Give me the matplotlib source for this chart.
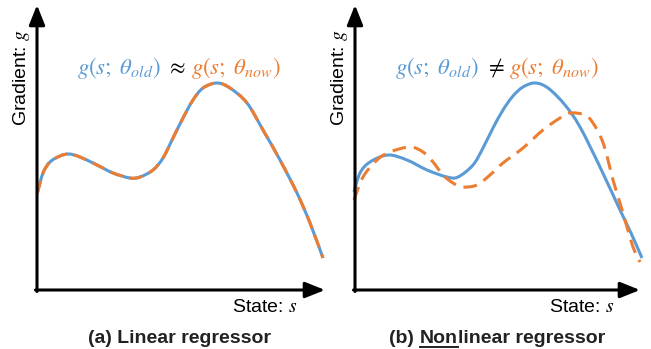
import numpy as np
import matplotlib
matplotlib.use("Agg")
import matplotlib.pyplot as plt
from matplotlib.lines import Line2D
from matplotlib.path import Path
from matplotlib.patches import PathPatch

# -----------------------------
# data (x = state, y = gradient)
# -----------------------------
# (a) linear regressor: old and new gradient curves overlap
state_a = [0.3, 6, 13, 23, 32, 43, 60, 76, 93, 103, 116, 126, 136, 146,
           156, 166, 180, 193, 210, 226, 243, 260, 273, 286]
grad_a = [96.7, 117, 128, 134, 136, 133, 125, 117, 112, 113, 120, 132, 152, 172,
          190, 202, 207, 202, 187, 160, 130, 97, 67, 32]

# (b) nonlinear regressor: old gradient
state_b_old = [-1, 5, 15, 33, 52, 72, 92, 103, 118, 128, 138, 148, 158, 168,
               180, 193, 210, 225, 245, 265, 276, 287]
grad_b_old = [98, 117, 128, 135, 130, 120, 113, 113, 125, 142, 162, 180, 194, 203,
              207, 202, 185, 163, 123, 80, 57, 32]

# (b) nonlinear regressor: new gradient
state_b_now = [-1, 8, 22, 35, 55, 68, 78, 88, 98, 108, 122, 135, 148, 168,
               188, 205, 215, 230, 238, 247, 253, 258, 265, 272, 278, 285]
grad_b_now = [90, 113, 130, 138, 143, 138, 128, 115, 107, 103, 105, 115, 127, 142,
              160, 172, 177, 175, 167, 150, 130, 110, 87, 63, 43, 28]

BLUE = "#5B9BD5"
ORANGE = "#ED7D31"

W, H = 651, 349
plt.rcParams["font.family"] = ["Liberation Sans", "DejaVu Sans"]
plt.rcParams["mathtext.fontset"] = "stix"

fig = plt.figure(figsize=(W / 100, H / 100), dpi=100)


def fx(px):
    return px / W


def fy(py):
    return 1 - py / H


def make_panel(left, right, top=5, bottom=290):
    ax = fig.add_axes([fx(left), fy(bottom), (right - left) / W, (bottom - top) / H])
    ax.set_xlim(0, right - left)
    ax.set_ylim(0, bottom - top)
    ax.axis("off")
    style = "-|>,head_length=0.5,head_width=0.2"
    arr = dict(arrowstyle=style, lw=2.2, color="black", mutation_scale=24,
               shrinkA=0, shrinkB=0)
    ax.annotate("", xy=(right - left, 0), xytext=(-1.5, 0), arrowprops=arr,
                annotation_clip=False)
    ax.annotate("", xy=(0, bottom - top), xytext=(0, -1.5), arrowprops=arr,
                annotation_clip=False)
    return ax


def smooth_curve(ax, xs, ys, **kw):
    # bezier path through the read points (catmull-rom handles)
    p = np.column_stack([xs, ys]).astype(float)
    verts = [p[0]]
    codes = [Path.MOVETO]
    for i in range(len(p) - 1):
        p0 = p[max(i - 1, 0)]
        p3 = p[min(i + 2, len(p) - 1)]
        c1 = p[i] + (p[i + 1] - p0) / 6
        c2 = p[i + 1] - (p3 - p[i]) / 6
        verts += [c1, c2, p[i + 1]]
        codes += [Path.CURVE4] * 3
    patch = PathPatch(Path(verts, codes), facecolor="none", clip_on=False,
                      capstyle="butt", **kw)
    ax.add_patch(patch)


ax_a = make_panel(37, 325)
ax_b = make_panel(355, 640)

# curves
smooth_curve(ax_a, state_a, grad_a, edgecolor=BLUE, lw=2.2)
smooth_curve(ax_a, state_a, grad_a, edgecolor=ORANGE, lw=2.2,
             linestyle=(0, (4.2, 2.4)))

smooth_curve(ax_b, state_b_old, grad_b_old, edgecolor=BLUE, lw=2.2)
smooth_curve(ax_b, state_b_now, grad_b_now, edgecolor=ORANGE, lw=2.2,
             linestyle=(0, (4.5, 2.6)))

# axis labels
for ax_left, state_right in [(37, 298), (355, 615)]:
    fig.text(fx(ax_left - 15), fy(78), "Gradient: $g$", rotation=90,
             fontsize=14, ha="center", va="center")
    fig.text(fx(state_right), fy(312), "State: $s$", fontsize=14,
             ha="right", va="baseline")


def place_row(pieces, cx, base, **kw):
    texts = [fig.text(0, fy(base), s, color=c, ha="left", va="baseline", **kw)
             for s, c in pieces]
    fig.canvas.draw()
    r = fig.canvas.get_renderer()
    widths = [t.get_window_extent(r).width for t in texts]
    x = cx - sum(widths) / 2
    spans = []
    for t, w in zip(texts, widths):
        t.set_x(fx(x))
        spans.append((x, x + w))
        x += w
    return spans


place_row([(r"$g(s;\ \theta_{old})$", BLUE), (r" $\approx$ ", "black"),
           (r"$g(s;\ \theta_{now})$", ORANGE)], 178.5, 74, fontsize=16.4)
place_row([(r"$g(s;\ \theta_{old})$", BLUE), (r" $\neq$ ", "black"),
           (r"$g(s;\ \theta_{now})$", ORANGE)], 497, 74, fontsize=16.4)

# panel titles
place_row([("(a) Linear regressor", "#222222")], 180, 343,
          fontsize=14, fontweight="bold")
spans = place_row([("(b) ", "#222222"), ("Non", "#222222"),
                   ("linear regressor", "#222222")], 497, 343,
                  fontsize=14, fontweight="bold")
x0, x1 = spans[1]
fig.add_artist(Line2D([fx(x0), fx(x1)], [fy(346.5), fy(346.5)],
                      color="#222222", lw=1.4))

fig.savefig("out.png", dpi=100)
